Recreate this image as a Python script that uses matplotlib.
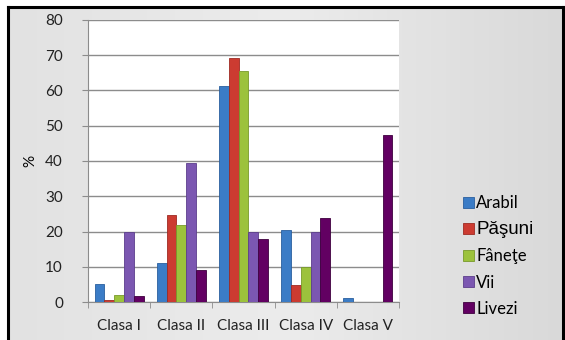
import matplotlib
matplotlib.use("Agg")
import matplotlib.pyplot as plt
import numpy as np
from matplotlib.colors import LinearSegmentedColormap

categories = ["Clasa I", "Clasa II", "Clasa III", "Clasa IV", "Clasa V"]
series_names = ["Arabil", "Păşuni", "Fâneţe", "Vii", "Livezi"]
arabil = [5.0, 11.0, 61.3, 20.5, 1.1]
pasuni = [0.5, 24.7, 69.1, 4.9, 0.0]
fanete = [1.9, 21.9, 65.6, 9.9, 0.0]
vii = [20.0, 39.4, 20.0, 20.0, 0.0]
livezi = [1.6, 9.2, 17.9, 23.9, 47.4]
yticks = [0, 10, 20, 30, 40, 50, 60, 70, 80]

series = [arabil, pasuni, fanete, vii, livezi]
colors = ["#3b7cc6", "#cc3b31", "#9cc23c", "#7b57b1", "#620062"]
edges = ["#2a5f9e", "#9e2a22", "#789a2a", "#5c3e8c", "#3e003e"]

plt.rcParams['font.family'] = ['Lato', 'DejaVu Sans']

fig = plt.figure(figsize=(5.65, 3.4), dpi=100)
fig.patch.set_facecolor("white")

# chart frame background (gradient)
W, H = 565, 340
bg = fig.add_axes([8 / W, 0, (563 - 8) / W, (340 - 7) / H])
grad = np.linspace(0, 1, 256).reshape(1, -1)
grad = np.vstack([grad, grad])
cm = LinearSegmentedColormap.from_list("g", ["#e2e2e2", "#ececec", "#d9d9d9"])
bg.imshow(grad, aspect="auto", cmap=cm, extent=[0, 1, 0, 1])
bg.set_xlim(0, 1); bg.set_ylim(0, 1)
bg.set_xticks([]); bg.set_yticks([])
for s in bg.spines.values():
    s.set_color("black")
    s.set_linewidth(2.2)
bg.spines["bottom"].set_visible(False)

# plot area
x0, x1 = 88, 399
y_top, y_zero = 20, 302
ax = fig.add_axes([x0 / W, 1 - y_zero / H, (x1 - x0) / W, (y_zero - y_top) / H])
ax.set_facecolor("white")
n = len(categories)
k = len(series)
x = np.arange(n)
group_w = 0.79
bw = group_w / k
for i, (name, vals) in enumerate(zip(series_names, series)):
    ax.bar(x - group_w / 2 + bw * (i + 0.5), vals, width=bw, color=colors[i],
           edgecolor=edges[i], linewidth=0.6, label=name, zorder=3)

ax.set_xlim(-0.5, n - 0.5)
ax.set_ylim(0, 80)
ax.set_yticks(yticks)
ax.set_yticklabels([str(v) for v in yticks], fontsize=11, color="#222222")
ax.yaxis.grid(True, color="#8c8c8c", linewidth=1.0, zorder=0)
ax.set_axisbelow(True)
ax.set_xticks(x)
ax.set_xticklabels(categories, fontsize=11, color="#222222")
ax.tick_params(axis="x", length=0, pad=12)
ax.set_xticks(np.arange(-0.5, n, 1.0), minor=True)
ax.tick_params(axis="x", which="minor", length=4, color="#8c8c8c")
ax.tick_params(axis="y", length=4, color="#8c8c8c", pad=14)
for s in ["top", "right"]:
    ax.spines[s].set_visible(False)
ax.spines["left"].set_color("#8c8c8c")
ax.spines["bottom"].set_color("#8c8c8c")
ax.set_ylabel("%", fontsize=11, labelpad=6)

handles, labels = ax.get_legend_handles_labels()
leg = fig.legend(handles, labels, loc="center left", bbox_to_anchor=(448 / W, 1 - 256 / H),
                 frameon=False, fontsize=12, handlelength=0.65, handleheight=0.65,
                 handletextpad=0.15, labelspacing=0.6)
for t in leg.get_texts():
    if t.get_text() == "Păşuni":
        t.set_fontsize(13.5)
        t.set_family(["Liberation Sans", "DejaVu Sans"])

fig.savefig("out.png", dpi=100)
